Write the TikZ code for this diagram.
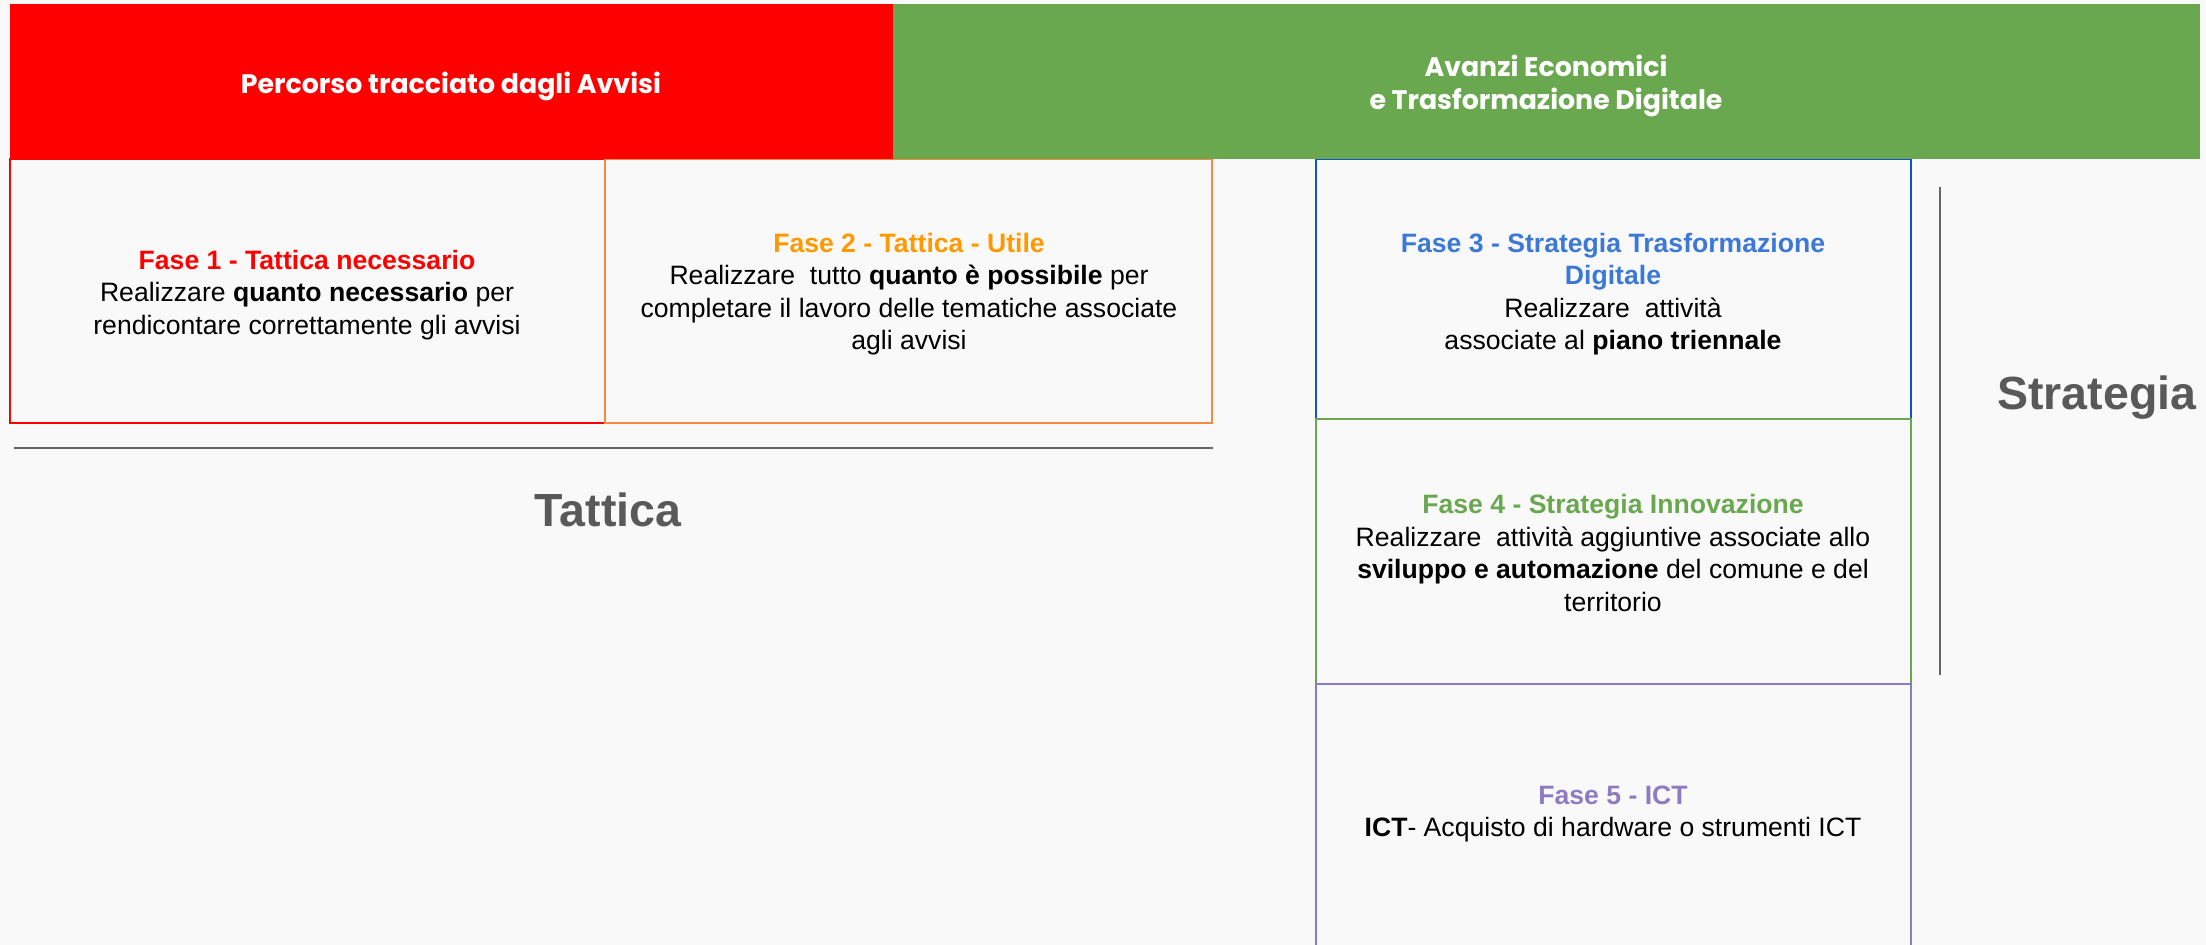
\documentclass[tikz,border=0pt]{standalone}
\usepackage{fontspec}
\setmainfont{Liberation Sans}
\newfontfamily\headfont{Poppins}
\usetikzlibrary{positioning}

\definecolor{bgcol}{HTML}{F9F9F9}
\definecolor{redhead}{HTML}{FF0000}
\definecolor{greenhead}{HTML}{6AA84F}
\definecolor{orangeline}{HTML}{F68A40}
\definecolor{orangetitle}{HTML}{FF9900}
\definecolor{blueline}{HTML}{1155CC}
\definecolor{bluetitle}{HTML}{3C78D8}
\definecolor{purpleline}{HTML}{8E7CC3}
\definecolor{rulegray}{HTML}{666666}
\definecolor{wordgray}{HTML}{595959}

\tikzset{
  phasebox/.style={line width=2pt, fill=bgcol},
  phasetext/.style={align=center, font=\fontsize{26.6}{32.5}\selectfont},
  headtext/.style={align=center, text=white, font=\headfont\bfseries\fontsize{26.8}{32.5}\selectfont},
  bigword/.style={text=wordgray, font=\bfseries\fontsize{46.5}{50}\selectfont},
  rule/.style={rulegray, line width=2.5pt},
}

\begin{document}
\begin{tikzpicture}[x=1pt,y=-1pt]
\useasboundingbox (0,0) rectangle (2206,945);
\fill[bgcol] (0,0) rectangle (2206,945);
% the five phases
\draw[phasebox, draw=redhead] (10,159) rectangle (605,423);
\draw[phasebox, draw=orangeline] (605,159) rectangle (1212,423);
\draw[phasebox, draw=blueline] (1316,159) rectangle (1911,419);
\draw[phasebox, draw=greenhead] (1316,419) rectangle (1911,684);
\draw[phasebox, draw=purpleline] (1316,684) rectangle (1911,960);
% headers
\fill[redhead] (10,4) rectangle (893,159);
\fill[greenhead] (893,4) rectangle (2200,159);
\node[headtext] (hred) at (451,86) {Percorso tracciato dagli Avvisi};
\node[headtext] (hgreen) at (1546,86) {Avanzi Economici\\e Trasformazione Digitale};
% phase texts
\node[phasetext] (f1) at (307,295) {\textcolor{redhead}{\bfseries Fase 1 - Tattica necessario}\\Realizzare \textbf{quanto necessario} per\\rendicontare correttamente gli avvisi};
\node[phasetext] (f2) at (909,294) {\textcolor{orangetitle}{\bfseries Fase 2 - Tattica - Utile}\\Realizzare\ \ tutto \textbf{quanto è possibile} per\\completare il lavoro delle tematiche associate\\agli avvisi};
\node[phasetext] (f3) at (1613,294) {\textcolor{bluetitle}{\bfseries Fase 3 - Strategia Trasformazione}\\\textcolor{bluetitle}{\bfseries Digitale}\\Realizzare\ \ attività\\associate al \textbf{piano triennale}};
\node[phasetext] (f4) at (1613,553) {\textcolor{greenhead}{\bfseries Fase 4 - Strategia Innovazione}\\Realizzare\ \ attività aggiuntive associate allo\\\textbf{sviluppo e automazione} del comune e del\\territorio};
\node[phasetext] (f5) at (1613,814) {\textcolor{purpleline}{\bfseries Fase 5 - ICT}\\\textbf{ICT}- Acquisto di hardware o strumenti ICT};
% tactics and strategy
\coordinate (tl) at (14,448);
\coordinate (tr) at (1213,448);
\draw[rule] (tl) -- (tr);
\node[bigword, anchor=base] (tattica) at (608,526) {Tattica};
\coordinate (st) at (1940,187);
\coordinate (sb) at (1940,675);
\draw[rule, line width=2pt] (st) -- (sb);
\node[bigword, anchor=base west, inner sep=0pt] (strategia) at (1997,409) {Strategia};
\end{tikzpicture}
\end{document}
